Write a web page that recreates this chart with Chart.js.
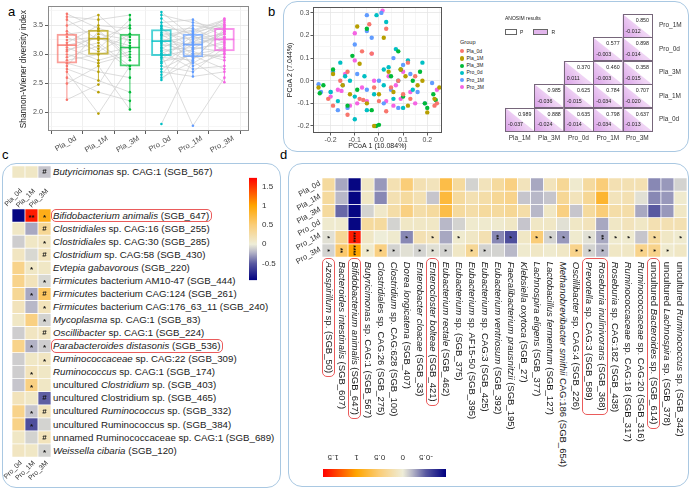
<!DOCTYPE html>
<html>
<head>
<meta charset="utf-8">
<title>Diversity, PCoA and differential taxa</title>
<script src="https://cdn.jsdelivr.net/npm/chart.js@4.4.1/dist/chart.umd.min.js"></script>
<style>
  body { margin: 0; background: #fff; }
  #fig { position: relative; width: 692px; height: 490px; overflow: hidden; background: #fff;
         font-family: "Liberation Sans", Arial, sans-serif; color: #1a1a1a; }
  canvas { position: absolute; }
  .box { position: absolute; box-sizing: border-box; border: 1.5px solid #a9c8e2; border-radius: 14px; }
  .t { position: absolute; white-space: nowrap; line-height: 1; }
  .hl { position: absolute; box-sizing: border-box; border: 1px solid #ea5b5b; border-radius: 5px; }
  .key { position: absolute; box-sizing: border-box; }
</style>
</head>
<body>
<div id="fig"></div>
<script>
// ---------- panel a : Shannon-Wiener index, one row per subject (0d, 1M, 3M) ----------
const timePoints = ["Pla_0d", "Pla_1M", "Pla_3M", "Pro_0d", "Pro_1M", "Pro_3M"];
const plaSubjects = [
  [3.70, 3.45, 3.30], [3.65, 3.60, 3.68], [3.60, 3.25, 3.50], [3.50, 3.68, 3.20],
  [3.40, 3.10, 3.60], [3.35, 3.42, 2.95], [3.30, 3.05, 3.35], [3.25, 3.30, 3.15],
  [3.20, 3.50, 3.45], [3.16, 3.28, 3.10], [3.12, 2.90, 3.05], [3.08, 3.20, 2.80],
  [3.05, 3.35, 3.25], [3.00, 2.85, 3.00], [2.95, 3.15, 2.75], [2.90, 3.00, 3.12],
  [2.85, 2.70, 2.60], [2.80, 3.40, 2.90], [2.75, 2.55, 2.35], [2.70, 1.98, 2.80],
  [2.60, 2.35, 2.20], [2.50, 2.80, 2.05], [2.22, 2.48, 3.35]
];
const proSubjects = [
  [3.73, 3.30, 3.50], [3.68, 3.55, 3.45], [3.62, 3.20, 3.62], [3.55, 3.60, 3.30],
  [3.50, 3.35, 3.55], [3.45, 3.10, 3.40], [3.42, 3.45, 3.20], [3.38, 3.25, 3.48],
  [3.35, 3.00, 3.10], [3.30, 3.40, 3.58], [3.27, 3.15, 3.35], [3.24, 2.95, 3.00],
  [3.22, 3.30, 3.25], [3.20, 3.50, 3.42], [3.18, 3.05, 2.90], [3.15, 3.20, 3.30],
  [3.12, 2.85, 3.15], [3.10, 3.38, 3.52], [3.07, 3.12, 3.05], [3.05, 2.75, 2.80],
  [3.02, 3.22, 3.38], [3.00, 1.77, 2.60], [2.98, 3.08, 3.22], [2.95, 2.90, 3.45],
  [2.92, 3.32, 3.08], [2.88, 2.98, 2.75], [2.85, 3.18, 3.28], [2.80, 2.70, 3.12],
  [2.75, 3.02, 2.95], [2.70, 2.62, 2.70], [2.65, 3.28, 3.35], [2.60, 2.88, 2.52],
  [2.56, 3.10, 3.18], [1.80, 2.92, 3.40], [3.48, 2.80, 3.02], [3.33, 3.42, 3.60]
];
const boxLow = [2.22, 2.53, 2.05, 2.57, 2.62, 2.52];
const boxQ1 = [2.85, 3.00, 2.80, 2.98, 2.96, 3.06];
const boxMedian = [3.16, 3.27, 3.12, 3.23, 3.17, 3.26];
const boxQ3 = [3.35, 3.42, 3.35, 3.43, 3.35, 3.45];
const boxHigh = [3.70, 3.68, 3.68, 3.73, 3.60, 3.63];

// ---------- panel b : PCoA coordinates by group ----------
const pcoaPla0d = [[-0.04,0.25],[0.03,0.23],[-0.03,0.12],[-0.07,0.13],[0.12,0.08],[-0.13,0.04],[-0.21,-0.08],[-0.08,-0.08],[-0.065,-0.085],[-0.19,-0.11],[-0.13,-0.15],[0.03,-0.135],[0.0,-0.09],[0.08,0.0],[0.15,0.02],[0.24,-0.1],[0.23,-0.11],[0.05,-0.03],[-0.02,-0.03],[0.1,-0.06],[-0.16,0.0],[0.13,-0.08]];
const pcoaPla1M = [[-0.09,0.24],[0.02,0.19],[-0.08,0.075],[-0.19,0.03],[-0.25,-0.03],[0.25,-0.03],[0.2,-0.14],[0.23,-0.08],[0.09,0.05],[-0.02,-0.2],[0.04,0.04],[-0.12,-0.06],[0.11,0.02],[0.16,-0.02],[-0.05,-0.1],[0.06,-0.05],[0.18,0.0],[-0.15,-0.02],[0.0,-0.06],[0.12,-0.11]];
const pcoaPla3M = [[-0.05,0.23],[-0.11,0.11],[-0.19,0.05],[-0.23,-0.02],[-0.245,-0.055],[0.0,-0.195],[-0.012,-0.2],[0.08,0.13],[0.09,0.05],[0.17,0.04],[0.225,-0.06],[0.235,-0.085],[0.2,-0.12],[0.19,-0.1],[0.1,-0.07],[-0.09,-0.04],[-0.13,-0.11],[0.05,0.02],[-0.03,-0.13],[0.14,0.0]];
const pcoaPro0d = [[-0.01,0.29],[0.03,0.26],[0.07,0.14],[-0.16,0.08],[-0.14,0.02],[-0.1,-0.07],[-0.17,-0.09],[-0.1,-0.17],[-0.05,-0.13],[0.02,-0.02],[0.04,0.06],[0.14,-0.04],[0.02,0.05],[-0.06,0.02],[0.1,-0.12],[-0.12,0.0],[0.06,-0.08],[-0.02,-0.06],[0.18,0.08],[0.12,0.09],[-0.2,-0.05],[0.08,0.0]];
const pcoaPro1M = [[-0.25,-0.015],[-0.2,-0.05],[-0.19,0.04],[-0.15,-0.02],[-0.13,-0.12],[-0.17,-0.13],[0.01,0.3],[-0.05,0.29],[-0.03,0.19],[-0.05,0.22],[-0.1,0.16],[0.06,0.1],[0.1,0.07],[0.13,0.03],[0.22,-0.01],[0.16,-0.05],[0.05,-0.04],[0.02,-0.1],[-0.05,-0.04],[0.0,0.0],[-0.09,0.03],[0.08,-0.12],[0.19,-0.1],[-0.24,-0.05]];
const pcoaPro3M = [[0.015,0.31],[-0.1,0.21],[-0.03,0.12],[-0.1,0.09],[-0.14,0.03],[-0.17,-0.04],[-0.155,-0.045],[-0.2,-0.07],[-0.12,-0.11],[-0.09,-0.1],[-0.05,-0.09],[0.03,-0.09],[0.06,-0.11],[0.09,-0.08],[0.13,-0.05],[0.1,0.04],[0.04,0.02],[-0.02,0.0],[0.07,-0.02],[0.15,-0.1],[0.24,-0.04],[-0.07,-0.03]];

// ANOSIM (rows bottom -> top, columns left -> right)
const anosimRows = ["Pla_0d", "Pla_1M", "Pla_3M", "Pro_0d", "Pro_1M"];
const anosimCols = ["Pla_1M", "Pla_3M", "Pro_0d", "Pro_1M", "Pro_3M"];
const anosimP = [
  [0.989, 0.888, 0.635, 0.798, 0.637],
  [null, 0.985, 0.625, 0.784, 0.707],
  [null, null, 0.370, 0.460, 0.358],
  [null, null, null, 0.577, 0.898],
  [null, null, null, null, 0.850]
];
const anosimR = [
  [-0.037, -0.024, -0.014, -0.034, -0.013],
  [null, -0.036, -0.015, -0.034, -0.020],
  [null, null, 0.011, -0.003, -0.015],
  [null, null, null, -0.003, -0.014],
  [null, null, null, null, -0.012]
];

// ---------- panel c : taxa changed in one arm (columns 0d, 1M, 3M) ----------
const cTopTaxon = "<i>Butyricimonas</i> sp. CAG:1 (SGB_567)";
const cTopValues = [0.1, 0.1, -0.15];
const cTopMarks = ["", "", "#"];
const cTaxa = [
  "<i>Bifidobacterium animalis</i> (SGB_647)",
  "<i>Clostridiales</i> sp. CAG:16 (SGB_255)",
  "<i>Clostridiales</i> sp. CAG:30 (SGB_285)",
  "<i>Clostridium</i> sp. CAG:58 (SGB_430)",
  "<i>Evtepia gabavorous</i> (SGB_220)",
  "<i>Firmicutes</i> bacterium AM10-47 (SGB_444)",
  "<i>Firmicutes</i> bacterium CAG:124 (SGB_261)",
  "<i>Firmicutes</i> bacterium CAG:176_63_11 (SGB_240)",
  "<i>Mycoplasma</i> sp. CAG:1 (SGB_83)",
  "<i>Oscillibacter</i> sp. CAG:1 (SGB_224)",
  "<i>Parabacteroides distasonis</i> (SGB_536)",
  "<i>Ruminococcaceae</i> sp. CAG:22 (SGB_309)",
  "<i>Ruminococcus</i> sp. CAG:1 (SGB_174)",
  "uncultured <i>Clostridium</i> sp. (SGB_403)",
  "uncultured Clostridium sp. (SGB_465)",
  "uncultured <i>Ruminococcus</i> sp. (SGB_332)",
  "uncultured Ruminococcus sp. (SGB_384)",
  "unnamed Ruminococcaceae sp. CAG:1 (SGB_689)",
  "<i>Weissella cibaria</i> (SGB_120)"
];
const cValues = [
  [-0.9, 1.6, 0.9], [0.1, -0.25, 0.35], [-0.12, 0.1, 0.12], [0.12, -0.08, 0.15],
  [0.4, 0.1, 0.1], [0.4, 0.15, -0.08], [0.35, -0.25, 0.6], [0.15, -0.2, 0.15],
  [0.1, 0.45, -0.1], [-0.12, 0.12, 0.12], [0.4, -0.22, -0.12], [-0.12, 0.1, 0.12],
  [-0.12, 0.15, 0.1], [-0.15, 0.45, 0.1], [0.15, 0.1, -0.48], [0.4, -0.15, 0.15],
  [0.42, -0.55, -0.1], [0.1, -0.1, 0.15], [0.12, 0.1, -0.1]
];
const cMarks = [
  ["", "**", "*"], ["", "", "#"], ["", "", "*"], ["", "", "#"], ["", "*", ""],
  ["", "", "*"], ["", "*", "#"], ["", "", "*"], ["", "", "*"], ["", "", "#"],
  ["", "*", "*"], ["", "", "*"], ["", "*", ""], ["", "*", ""], ["", "", "#"],
  ["", "*", "#"], ["", "*", ""], ["", "", "#"], ["", "", "*"]
];
const cColsTop = ["Pla_0d", "Pla_1M", "Pla_3M"];
const cColsBottom = ["Pro_0d", "Pro_1M", "Pro_3M"];
const cHighlight = [0, 10];

// ---------- panel d : taxa x time point ----------
const dRows = ["Pla_0d", "Pla_1M", "Pla_3M", "Pro_0d", "Pro_1M", "Pro_3M"];
const dTaxa = [
  "<i>Azospirillum</i> sp. (SGB_50)",
  "<i>Bacteroides intestinalis</i> (SGB_607)",
  "<i>Bifidobacterium animalis</i> (SGB_647)",
  "<i>Butyricimonas</i> sp. CAG:1 (SGB_567)",
  "<i>Clostridiales</i> sp. CAG:26 (SGB_275)",
  "<i>Clostridium</i> sp. CAG:628 (SGB_100)",
  "<i>Dorea longicatena</i> (SGB_407)",
  "<i>Enterobacter cloacae</i> (SGB_33)",
  "<i>Enterocloster bolteae</i> (SGB_421)",
  "<i>Eubacterium rectale</i> (SGB_462)",
  "<i>Eubacterium</i> sp. (SGB_375)",
  "<i>Eubacterium</i> sp. AF15-50 (SGB_395)",
  "<i>Eubacterium</i> sp. CAG:3 (SGB_425)",
  "<i>Eubacterium ventriosum</i> (SGB_392)",
  "<i>Faecalibacterium prausnitzii</i> (SGB_195)",
  "<i>Klebsiella oxytoca</i> (SGB_27)",
  "<i>Lachnospira eligens</i> (SGB_377)",
  "<i>Lactobacillus fermentum</i> (SGB_127)",
  "<i>Methanobrevibacter smithii</i> CAG:186 (SGB_654)",
  "<i>Oscillibacter</i> sp. CAG:4 (SGB_226)",
  "<i>Prevotella</i> sp. CAG:3 (SGB_589)",
  "<i>Roseburia inulinivorans</i> (SGB_368)",
  "<i>Roseburia</i> sp. CAG:182 (SGB_438)",
  "<i>Ruminococcaceae</i> sp. CAG:18 (SGB_317)",
  "<i>Ruminococcaceae</i> sp. CAG:20 (SGB_316)",
  "uncultured <i>Bacteroides</i> sp. (SGB_614)",
  "uncultured <i>Lachnospira</i> sp. (SGB_378)",
  "uncultured <i>Ruminococcus</i> sp. (SGB_342)"
];
// one entry per taxon: Pla_0d, Pla_1M, Pla_3M, Pro_0d, Pro_1M, Pro_3M
const dValues = [
  [0.3, 0.3, 0.3, 0.05, -0.05, -0.1], [-0.25, -0.2, -0.45, 0.05, 0.35, 0.55],
  [-0.9, -0.9, -0.9, -0.9, 1.6, 1.0], [0.1, 0.1, -0.1, 0.3, 0.1, 0.05],
  [-0.3, -0.35, 0.08, 0.3, 0.0, 0.45], [0.2, 0.2, 0.25, -0.1, 0.05, -0.1],
  [0.5, 0.3, 0.45, 0.1, -0.35, -0.05], [0.2, 0.2, 0.25, 0.1, 0.2, -0.1],
  [0.15, -0.15, 0.3, 0.1, 0.15, -0.05], [0.7, 0.75, 0.7, -0.2, -0.25, -0.1],
  [0.3, 0.3, 0.3, -0.1, 0.05, 0.1], [-0.1, 0.2, 0.25, 0.05, 0.1, 0.35],
  [0.15, 0.25, 0.3, 0.05, 0.2, -0.1], [0.3, 0.35, 0.3, 0.05, -0.35, -0.1],
  [0.45, 0.4, 0.35, 0.1, -0.55, -0.2], [0.15, -0.15, 0.25, -0.15, 0.1, 0.05],
  [-0.25, -0.2, -0.2, 0.1, 0.5, 0.1], [0.15, -0.15, 0.1, 0.1, -0.1, 0.05],
  [0.35, 0.35, 0.45, -0.05, -0.3, 0.1], [0.05, 0.15, -0.15, 0.1, 0.05, 0.4],
  [0.3, 0.35, 0.3, 0.15, -0.05, -0.1], [0.5, 0.8, 0.5, -0.25, -0.25, -0.2],
  [0.2, 0.15, 0.25, 0.1, 0.05, 0.1], [0.2, 0.2, 0.25, 0.15, 0.05, 0.1],
  [0.2, -0.05, -0.25, 0.1, -0.15, 0.4], [-0.35, -0.35, -0.5, 0.2, 0.3, 0.4],
  [-0.3, -0.3, -0.3, 0.2, 0.1, 0.05], [-0.1, 0.05, 0.1, 0.2, 0.05, 0.1]
];
const dStarsPro1M = ["*","","****","","","","*","","*","","*","","","**","*","","*","*","*","","*","**","*","*","","*","","*"];
const dStarsPro3M = ["*","**","****","*","*","*","","*","*","*","","*","*","","","","","","","*","*","*","","","*","*","*",""];
const dHighlight = [[0], [2], [8], [20, 21], [25]];

// colour key shared by c and d
const scaleMin = -0.93, scaleMax = 1.72;
const scaleTicks = [-0.5, 0, 0.5, 1, 1.5];

// ---------- styles ----------
const FONT = '"Liberation Sans", Arial, sans-serif';
const groupColors = ["#F8766D", "#B79F00", "#00BA38", "#00BFC4", "#619CFF", "#F564E3"];
const colorStops = [
  [-0.93, [0, 0, 128]], [-0.5, [88, 88, 160]], [-0.2, [184, 184, 200]], [0, [238, 237, 216]],
  [0.5, [250, 205, 120]], [1, [255, 165, 0]], [1.72, [255, 0, 0]]
];

Chart.defaults.font.family = FONT;
Chart.defaults.animation = false;
Chart.defaults.responsive = false;
Chart.defaults.events = [];
Chart.defaults.plugins.legend.display = false;
Chart.defaults.plugins.tooltip.enabled = false;

const fig = document.getElementById("fig");

function makeCanvas(x, y, w, h) {
  const c = document.createElement("canvas");
  c.width = w; c.height = h;
  c.style.left = x + "px"; c.style.top = y + "px";
  c.style.width = w + "px"; c.style.height = h + "px";
  fig.appendChild(c);
  return c;
}

function div(cls, x, y, w, h, extra) {
  const d = document.createElement("div");
  d.className = cls;
  Object.assign(d.style, { left: x + "px", top: y + "px", width: w + "px", height: h + "px" }, extra || {});
  fig.appendChild(d);
  return d;
}

// text anchored at (x, y) = vertical middle of the line; align left/right/center
function text(html, x, y, size, opts = {}) {
  const el = document.createElement("div");
  el.className = "t";
  el.innerHTML = html;
  el.style.fontSize = size + "px";
  if (opts.color) el.style.color = opts.color;
  fig.appendChild(el);
  const w = el.getBoundingClientRect().width;
  let left = x;
  if (opts.align === "right") left = x - w;
  if (opts.align === "center") left = x - w / 2;
  el.style.left = left + "px";
  el.style.top = (y - size / 2) + "px";
  if (opts.rotate) {
    const ox = opts.align === "right" ? "100%" : opts.align === "center" ? "50%" : "0";
    el.style.transformOrigin = ox + " 50%";
    el.style.transform = "rotate(" + opts.rotate + "deg)";
  }
  return w;
}

function alpha(hex, a) {
  const n = parseInt(hex.slice(1), 16);
  return `rgba(${n >> 16},${(n >> 8) & 255},${n & 255},${a})`;
}

function colorFor(v) {
  for (let i = 1; i < colorStops.length; i++) {
    const [v1, c1] = colorStops[i];
    const [v0, c0] = colorStops[i - 1];
    if (v <= v1 || i === colorStops.length - 1) {
      const f = Math.max(0, Math.min(1, (v - v0) / (v1 - v0)));
      return `rgb(${c0.map((c, k) => Math.round(c + (c1[k] - c) * f)).join(",")})`;
    }
  }
}

function rampGradient(chart, axis) {
  const s = chart.scales[axis];
  if (!s || !chart.chartArea) return "#ccc";
  const a = s.getPixelForValue(scaleMin), b = s.getPixelForValue(scaleMax);
  if (!isFinite(a) || !isFinite(b)) return "#ccc";
  const g = axis === "y" ? chart.ctx.createLinearGradient(0, a, 0, b) : chart.ctx.createLinearGradient(a, 0, b, 0);
  colorStops.forEach(([v, c]) => g.addColorStop((v - scaleMin) / (scaleMax - scaleMin), `rgb(${c.join(",")})`));
  return g;
}

const framePlugin = color => ({
  id: "frame",
  afterDraw(chart) {
    const { ctx, chartArea: a } = chart;
    ctx.save();
    ctx.strokeStyle = color; ctx.lineWidth = 1;
    ctx.strokeRect(Math.round(a.left) + 0.5, Math.round(a.top) + 0.5, Math.round(a.right - a.left) - 1, Math.round(a.bottom - a.top) - 1);
    ctx.restore();
  }
});

// ---------- boxes and panel letters ----------
div("box", 283, 1, 406, 151);
div("box", 2, 163, 279, 325);
div("box", 288, 163, 401, 324);
text("a", 8, 11, 13, { color: "#000" });
text("b", 268, 11, 13, { color: "#000" });
text("c", 2, 154, 13, { color: "#000" });
text("d", 280, 154, 13, { color: "#000" });

// ---------- panel a ----------
const aDatasets = [];
timePoints.forEach((name, t) => {
  const subjects = t < 3 ? plaSubjects : proSubjects;
  aDatasets.push({
    type: "scatter", order: 0,
    data: subjects.map(s => ({ x: t + 1, y: s[t % 3] })),
    backgroundColor: groupColors[t], pointRadius: 1.3, borderWidth: 0
  });
  aDatasets.push({
    type: "line", order: 1,
    data: [{ x: t + 1, y: boxLow[t] }, { x: t + 1, y: boxQ1[t] }, { x: t + 1, y: null },
           { x: t + 1, y: boxQ3[t] }, { x: t + 1, y: boxHigh[t] }],
    borderColor: alpha(groupColors[t], 0.8), borderWidth: 1, pointRadius: 0, spanGaps: false
  });
  aDatasets.push({
    type: "line", order: 1,
    data: [{ x: t + 1 - 0.31, y: boxMedian[t] }, { x: t + 1 + 0.31, y: boxMedian[t] }],
    borderColor: alpha(groupColors[t], 0.8), borderWidth: 1.6, pointRadius: 0
  });
});
aDatasets.push({
  type: "bar", order: 2,
  data: timePoints.map((_, t) => ({ x: t + 1, y: [boxQ1[t], boxQ3[t]] })),
  backgroundColor: "rgba(255,255,255,0)",
  borderColor: groupColors.map(c => alpha(c, 0.7)),
  borderWidth: 1.3, borderSkipped: false, barThickness: 20
});
[[plaSubjects, 1], [proSubjects, 4]].forEach(([subjects, first]) => {
  subjects.forEach(s => aDatasets.push({
    type: "line", order: 3,
    data: s.map((v, k) => ({ x: first + k, y: v })),
    borderColor: "#cdcdcd", borderWidth: 0.7, pointRadius: 0
  }));
});

new Chart(makeCanvas(0, 0, 253, 160), {
  type: "bar",
  data: { datasets: aDatasets },
  options: {
    layout: { padding: { top: 3, right: 1 } },
    scales: {
      x: {
        type: "linear", min: 0.4, max: 6.78, offset: false,
        afterBuildTicks: s => { s.ticks = timePoints.map((_, i) => ({ value: i + 1 })); },
        ticks: { autoSkip: false, minRotation: 30, maxRotation: 30, labelOffset: 9, padding: 0,
                 font: { size: 7.5 }, color: "#4d4d4d", callback: v => timePoints[Math.round(v) - 1] },
        grid: { color: "#ebebeb", lineWidth: 0.8, tickLength: 3, tickColor: "#333" },
        border: { display: false },
        afterFit: s => { s.height = 29; }
      },
      y: {
        type: "linear", min: 1.68, max: 3.83,
        afterBuildTicks: s => { s.ticks = [1.75, 2, 2.25, 2.5, 2.75, 3, 3.25, 3.5, 3.75].map(v => ({ value: v })); },
        ticks: { autoSkip: false, padding: 2, font: { size: 7.2 }, color: "#4d4d4d",
                 callback: v => (Math.round(v * 4) % 2 === 0 ? v.toFixed(1) : "") },
        grid: {
          lineWidth: 0.8, tickLength: 3,
          color: c => (Math.round(c.tick.value * 4) % 2 === 0 ? "#e6e6e6" : "#f4f4f4"),
          tickColor: c => (Math.round(c.tick.value * 4) % 2 === 0 ? "#333" : "rgba(0,0,0,0)")
        },
        border: { display: false },
        afterFit: s => { s.width = 48; }
      }
    }
  },
  plugins: [framePlugin("#8a8a8a")]
});
text("Shannon-Wiener diversity index", 23.5, 69, 8.4, { align: "center", rotate: -90 });

// ---------- panel b : PCoA ----------
const pcoaGroups = [pcoaPla0d, pcoaPla1M, pcoaPla3M, pcoaPro0d, pcoaPro1M, pcoaPro3M];
const isMajor = v => Math.round(v * 20) % 2 === 0;
new Chart(makeCanvas(282, 0, 164, 152), {
  type: "scatter",
  data: {
    datasets: pcoaGroups.map((pts, i) => ({
      data: pts.map(p => ({ x: p[0], y: p[1] })),
      backgroundColor: groupColors[i], pointRadius: 2.2, borderWidth: 0
    }))
  },
  options: {
    layout: { padding: { top: 7, right: 1 } },
    scales: {
      x: {
        type: "linear", min: -0.273, max: 0.261,
        afterBuildTicks: s => { s.ticks = [-5, -4, -3, -2, -1, 0, 1, 2, 3, 4, 5].map(k => ({ value: k / 20 })); },
        ticks: { autoSkip: false, padding: 0, font: { size: 7 }, color: "#4d4d4d", maxRotation: 0,
                 callback: v => (isMajor(v) ? v.toFixed(1) : "") },
        grid: { lineWidth: 0.8, tickLength: 2.5,
                color: c => (isMajor(c.tick.value) ? "#e6e6e6" : "#f4f4f4"),
                tickColor: c => (isMajor(c.tick.value) ? "#333" : "rgba(0,0,0,0)") },
        border: { display: false },
        title: { display: true, text: "PCoA 1 (10.084%)", font: { size: 7 }, color: "#1a1a1a", padding: { top: 2, bottom: 2 } },
        afterFit: s => { s.height = 19; }
      },
      y: {
        type: "linear", min: -0.231, max: 0.326,
        afterBuildTicks: s => { s.ticks = [-4, -3, -2, -1, 0, 1, 2, 3, 4, 5, 6].map(k => ({ value: k / 20 })); },
        ticks: { autoSkip: false, padding: 1, font: { size: 7 }, color: "#4d4d4d",
                 callback: v => (isMajor(v) ? v.toFixed(1) : "") },
        grid: { lineWidth: 0.8, tickLength: 2.5,
                color: c => (isMajor(c.tick.value) ? "#e6e6e6" : "#f4f4f4"),
                tickColor: c => (isMajor(c.tick.value) ? "#333" : "rgba(0,0,0,0)") },
        border: { display: false },
        title: { display: true, text: "PCoA 2 (7.044%)", font: { size: 7 }, color: "#1a1a1a", padding: { top: 4, bottom: 4 } },
        afterFit: s => { s.width = 31; }
      }
    }
  },
  plugins: [framePlugin("#555")]
});

// group legend
text("Group", 460, 43, 5.6);
timePoints.forEach((name, i) => {
  const y = 51.3 + 7.2 * i;
  div("key", 460, y - 2.2, 4.4, 4.4, { background: groupColors[i], borderRadius: "50%" });
  text(name, 466.5, y, 5);
});

// ANOSIM triangle matrix
const anosimPlugin = {
  id: "anosim",
  afterDraw(chart) {
    const { ctx, scales: { x, y } } = chart;
    ctx.save();
    anosimP.forEach((row, r) => row.forEach((p, c) => {
      if (p === null) return;
      const l = x.getPixelForValue(c), rt = x.getPixelForValue(c + 1);
      const b = y.getPixelForValue(r), t = y.getPixelForValue(r + 1);
      ctx.fillStyle = "#fff";
      ctx.fillRect(l, t, rt - l, b - t);
      const g = ctx.createLinearGradient(l, b, (l + rt) / 2, (t + b) / 2);
      g.addColorStop(0, "#d9a0e7");
      g.addColorStop(1, "#efd3f4");
      ctx.fillStyle = g;
      ctx.beginPath(); ctx.moveTo(l, t); ctx.lineTo(l, b); ctx.lineTo(rt, b); ctx.closePath(); ctx.fill();
      ctx.strokeStyle = "#76667a"; ctx.lineWidth = 1;
      ctx.strokeRect(Math.round(l) + 0.5, Math.round(t) + 0.5, Math.round(rt - l), Math.round(b - t));
      ctx.fillStyle = "#222";
      ctx.font = `5.3px ${FONT}`;
      ctx.textBaseline = "middle";
      ctx.textAlign = "right";
      ctx.fillText(p.toFixed(3), rt - 3, t + 6.5);
      ctx.textAlign = "left";
      ctx.fillText(anosimR[r][c].toFixed(3), l + 3, b - 6);
    }));
    ctx.restore();
  }
};
new Chart(makeCanvas(500, 0, 185, 150), {
  type: "scatter",
  data: { datasets: [] },
  options: {
    layout: { padding: { left: 5, top: 14 } },
    scales: {
      x: {
        type: "linear", min: 0, max: 5,
        afterBuildTicks: s => { s.ticks = anosimCols.map((_, i) => ({ value: i + 0.5 })); },
        ticks: { autoSkip: false, maxRotation: 0, padding: 3, font: { size: 6.5 }, color: "#333",
                 callback: (v, i) => anosimCols[i] },
        grid: { display: false, drawTicks: false }, border: { display: false },
        afterFit: s => { s.height = 19; }
      },
      y: {
        type: "linear", min: 0, max: 5, position: "right",
        afterBuildTicks: s => { s.ticks = anosimRows.map((_, i) => ({ value: i + 0.5 })); },
        ticks: { autoSkip: false, padding: 7, font: { size: 6.5 }, color: "#333",
                 callback: (v, i) => anosimRows[i] },
        grid: { display: false, drawTicks: false }, border: { display: false },
        afterFit: s => { s.width = 33; }
      }
    }
  },
  plugins: [anosimPlugin]
});
text("ANOSIM results", 505, 18, 5);
div("key", 505, 29, 12, 6, { border: "0.8px solid #666", background: "#fff" });
text("P", 520, 32.3, 5);
div("key", 533, 29, 15, 6, { border: "0.8px solid #666", background: "#e2b6ec" });
text("R", 551.5, 32.3, 5);

// ---------- heatmaps (c and d) ----------
function markPlugin(marks, rotate, size) {
  return {
    id: "marks",
    afterDatasetsDraw(chart) {
      const { ctx, scales: { x, y } } = chart;
      ctx.save();
      ctx.fillStyle = "#111";
      ctx.textAlign = "center";
      ctx.textBaseline = "middle";
      ctx.font = `bold ${size}px ${FONT}`;
      marks.forEach((row, r) => row.forEach((m, c) => {
        if (!m) return;
        ctx.save();
        ctx.translate(x.getPixelForValue(c), y.getPixelForValue(r + 0.5));
        if (rotate) ctx.rotate(Math.PI / 2);
        ctx.fillText(m, 0, m[0] === "*" ? size * 0.28 : 0);
        ctx.restore();
      }));
      ctx.restore();
    }
  };
}

function heatmap(x, y, w, h, matrix, marks, rotate, markSize) {
  const nRows = matrix.length;
  return new Chart(makeCanvas(x, y, w, h), {
    type: "bar",
    data: {
      labels: matrix[0].map((_, c) => c),
      datasets: matrix.map((row, r) => ({
        data: row.map(() => [r, r + 1]),
        backgroundColor: row.map(colorFor),
        borderColor: "#ffffff", borderWidth: 0.7, borderSkipped: false,
        grouped: false, barPercentage: 1, categoryPercentage: 1
      }))
    },
    options: {
      layout: { padding: 0 },
      scales: { x: { display: false }, y: { display: false, min: 0, max: nRows, reverse: true } }
    },
    plugins: [markPlugin(marks, rotate, markSize)]
  });
}

// panel c
const cTop = 209, cPitch = 248 / cValues.length, cLeft = 12, cColW = 13;
heatmap(cLeft, 166, 39, 12, [cTopValues], [cTopMarks], false, 8);
heatmap(cLeft, cTop, 39, 248, cValues, cMarks, false, 8);
text(cTopTaxon, 53, 172, 9.7);
cTaxa.forEach((name, i) => {
  const yc = cTop + cPitch * (i + 0.5);
  const w = text(name, 53, yc, 9.7);
  if (cHighlight.includes(i)) div("hl", 51, yc - 6.7, w + 4.5, 13.4);
});
cColsTop.forEach((name, i) => text(name, cLeft + cColW * (i + 0.5) + 2, 189, 7, { align: "right", rotate: -45, color: "#333" }));
cColsBottom.forEach((name, i) => text(name, cLeft + cColW * (i + 0.5) + 2, 461, 7, { align: "right", rotate: -45, color: "#333" }));

// colour key for c
new Chart(makeCanvas(249, 168, 40, 122), {
  type: "bar",
  data: { labels: ["key"], datasets: [{ data: [[scaleMin, scaleMax]], backgroundColor: c => rampGradient(c.chart, "y"),
                                        barPercentage: 1, categoryPercentage: 1, borderWidth: 0 }] },
  options: {
    layout: { padding: 0 },
    scales: {
      x: { display: false },
      y: {
        position: "right", min: scaleMin, max: scaleMax,
        afterBuildTicks: s => { s.ticks = scaleTicks.map(v => ({ value: v })); },
        ticks: { autoSkip: false, padding: 5, font: { size: 8 }, color: "#333", callback: v => String(v) },
        grid: { display: false, drawTicks: false }, border: { display: false },
        afterFit: s => { s.width = 32; }
      }
    }
  }
});

// panel d
const dLeft = 322, dTop = 178, dW = 365, dH = 79;
const dColW = dW / dTaxa.length, dRowH = dH / dRows.length;
const dMatrix = dRows.map((_, r) => dValues.map(col => col[r]));
const dMarks = dRows.map((_, r) => (r === 4 ? dStarsPro1M : r === 5 ? dStarsPro3M : dTaxa.map(() => "")));
heatmap(dLeft, dTop, dW, dH, dMatrix, dMarks, true, 6.5);
dRows.forEach((name, r) => text(name, 320, dTop + dRowH * (r + 0.5) - 2, 7.7, { align: "right", rotate: -30, color: "#333" }));
const dLabelW = dTaxa.map((name, c) => text(name, dLeft + dColW * (c + 0.5), 262, 9.5, { rotate: 90 }));
dHighlight.forEach(cols => {
  const first = cols[0], last = cols[cols.length - 1];
  const len = Math.max(...cols.map(c => dLabelW[c]));
  div("hl", dLeft + dColW * first - 0.5, 258, dColW * (last - first + 1), len + 8);
});

// colour key for d (upside-down labels above the bar)
new Chart(makeCanvas(323, 448, 123, 29), {
  type: "bar",
  data: { labels: ["key"], datasets: [{ data: [[scaleMin, scaleMax]], backgroundColor: c => rampGradient(c.chart, "x"),
                                        barPercentage: 1, categoryPercentage: 1, borderWidth: 0 }] },
  options: {
    indexAxis: "y",
    layout: { padding: { top: 21 } },
    scales: { x: { display: false, min: scaleMin, max: scaleMax, reverse: true }, y: { display: false } }
  },
  plugins: [{
    id: "flipLabels",
    afterDraw(chart) {
      const { ctx, scales: { x }, chartArea } = chart;
      ctx.save();
      ctx.font = `8px ${FONT}`;
      ctx.fillStyle = "#333";
      ctx.textAlign = "center";
      ctx.textBaseline = "middle";
      scaleTicks.forEach(v => {
        ctx.save();
        ctx.translate(x.getPixelForValue(v), chartArea.top - 12);
        ctx.rotate(Math.PI);
        ctx.fillText(String(v), 0, 0);
        ctx.restore();
      });
      ctx.restore();
    }
  }]
});
</script>
</body>
</html>
